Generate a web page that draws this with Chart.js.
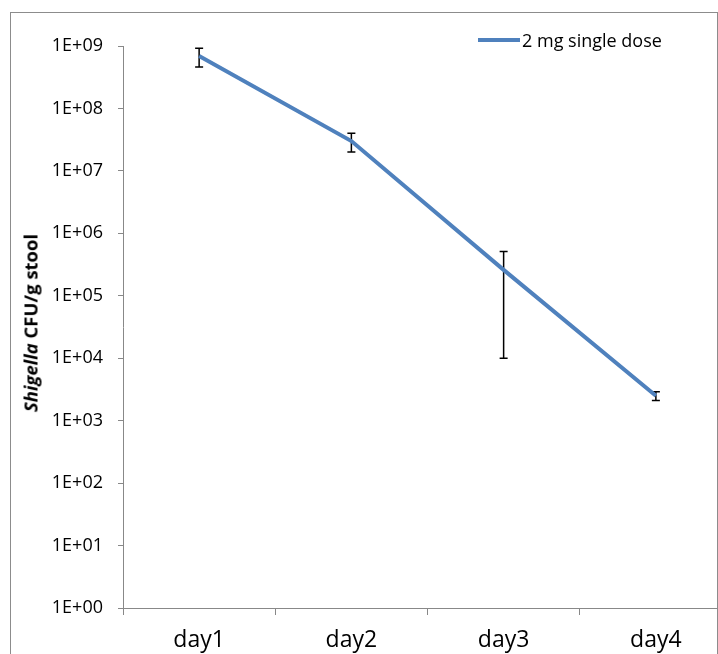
<!DOCTYPE html>
<html>
<head>
<meta charset="utf-8">
<script src="https://cdn.jsdelivr.net/npm/chart.js@4.4.1/dist/chart.umd.min.js"></script>
<style>
    body { margin: 0; background: #fff; overflow: hidden; }
    #wrap { position: relative; width: 718px; height: 654px; overflow: hidden; font-family: "Open Sans", sans-serif; }
    #frame { position: absolute; left: 10px; top: 12px; width: 706px; height: 800px; border: 1px solid #8c8c8c; }
    #chartBox { position: absolute; left: 0; top: 0; }
    #yTitle { position: absolute; left: 30px; top: 323px; transform: translate(-50%, -50%) rotate(-90deg); white-space: nowrap; font-weight: bold; font-size: 18.5px; color: #000; }
    #legend { position: absolute; left: 478px; top: 28px; height: 24px; display: flex; align-items: center; font-size: 18px; color: #000; white-space: nowrap; }
    #legend .swatch { display: inline-block; width: 42px; height: 4px; background: #4F81BD; margin-right: 2px; }
</style>
</head>
<body>
<div id="wrap">
    <div id="frame"></div>
    <div id="chartBox"><canvas id="cfuChart" width="760" height="660"></canvas></div>
    <div id="yTitle"><i>Shigella</i> CFU/g stool</div>
    <div id="legend"><span class="swatch"></span><span id="legendText"></span></div>
</div>
<script>
// data
var days = ['day1', 'day2', 'day3', 'day4'];
var cfuMean = [6.9e8, 3.0e7, 2.6e5, 2.5e3];
var cfuErr = [2.3e8, 1.0e7, 2.5e5, 4.0e2];
var seriesName = '2 mg single dose';
var yTickValues = [1, 10, 100, 1e3, 1e4, 1e5, 1e6, 1e7, 1e8, 1e9];
var yTickLabels = ['1E+00', '1E+01', '1E+02', '1E+03', '1E+04', '1E+05', '1E+06', '1E+07', '1E+08', '1E+09'];

document.getElementById('legendText').innerText = seriesName;

// error bars, drawn under the line
var errorBars = {
    id: 'errorBars',
    beforeDatasetsDraw: function (chart) {
        var ctx = chart.ctx;
        var x = chart.scales.x;
        var y = chart.scales.y;
        ctx.save();
        ctx.strokeStyle = '#000';
        ctx.lineWidth = 1.5;
        cfuMean.forEach(function (m, i) {
            var px = x.getPixelForValue(i);
            var top = y.getPixelForValue(m + cfuErr[i]);
            var bot = y.getPixelForValue(Math.max(m - cfuErr[i], 1));
            ctx.beginPath();
            ctx.moveTo(px, top); ctx.lineTo(px, bot);
            ctx.moveTo(px - 4, top); ctx.lineTo(px + 4, top);
            ctx.moveTo(px - 4, bot); ctx.lineTo(px + 4, bot);
            ctx.stroke();
        });
        ctx.restore();
    }
};

var ctx = document.getElementById('cfuChart').getContext('2d');
var cfuChart = new Chart(ctx, {
    type: 'line',
    data: {
        labels: days,
        datasets: [{
            label: seriesName,
            data: cfuMean,
            borderColor: '#4F81BD',
            borderWidth: 4,
            pointRadius: 0,
            tension: 0,
            fill: false
        }]
    },
    options: {
        responsive: false,
        animation: false,
        layout: { padding: { top: 46, right: 28, left: 0, bottom: 0 } },
        plugins: {
            legend: { display: false },
            tooltip: { enabled: false }
        },
        scales: {
            x: {
                type: 'category',
                offset: true,
                grid: { offset: true, drawOnChartArea: false, tickLength: 7, color: '#888' },
                border: { color: '#888', width: 1 },
                ticks: { color: '#000', font: { family: 'Open Sans', size: 23 }, padding: 12, maxRotation: 0 },
                afterFit: function (scale) { scale.height = 52; }
            },
            y: {
                type: 'logarithmic',
                min: 1,
                max: 1e9,
                grid: { drawOnChartArea: false, tickLength: 5, color: '#888' },
                border: { color: '#888', width: 1 },
                afterBuildTicks: function (scale) {
                    scale.ticks = yTickValues.map(function (v) { return { value: v }; });
                },
                ticks: {
                    color: '#000',
                    font: { family: 'Open Sans', size: 18 },
                    padding: 15,
                    callback: function (v) { return yTickLabels[yTickValues.indexOf(v)]; }
                },
                afterFit: function (scale) { scale.width = 123; }
            }
        }
    },
    plugins: [errorBars]
});
</script>
</body>
</html>
